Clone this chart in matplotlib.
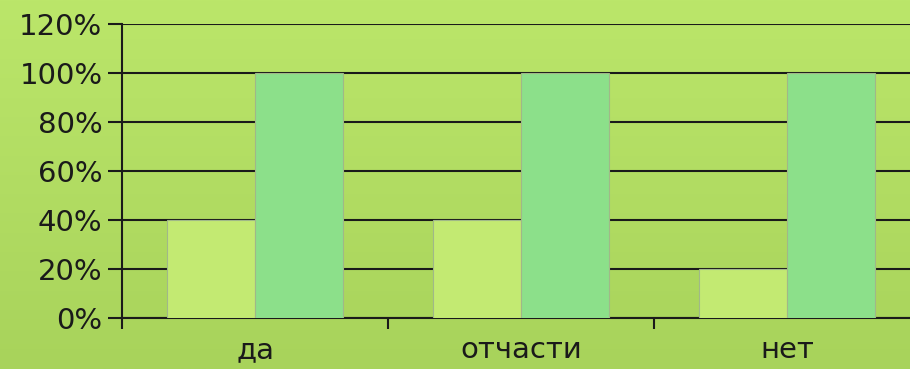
import numpy as np
import matplotlib.pyplot as plt

# --- Data ---
categories = ['да', 'отчасти', 'нет']
series_a = [40, 40, 20]
series_b = [100, 100, 100]
yticks = [0, 20, 40, 60, 80, 100, 120]

fig = plt.figure(figsize=(9.10, 3.69), dpi=100)

# background gradient
bg = fig.add_axes([0, 0, 1, 1], zorder=-10)
top = np.array([0xbb, 0xe6, 0x6a]) / 255
bot = np.array([0xa8, 0xd3, 0x5b]) / 255
t = np.linspace(0, 1, 256)[:, None]
grad = (top * (1 - t) + bot * t)[:, None, :]
bg.imshow(grad, aspect='auto', extent=[0, 1, 0, 1])
bg.axis('off')

ax = fig.add_axes([122 / 910, 1 - 318 / 369, 798 / 910, 294 / 369])
ax.patch.set_alpha(0)

x = np.arange(len(categories))
w = 0.33
ax.bar(x - w / 2, series_a, w, color='#c3ea72', edgecolor='#a0b888', linewidth=0.8, zorder=3)
ax.bar(x + w / 2, series_b, w, color='#8ce08a', edgecolor='#a0b888', linewidth=0.8, zorder=3)

ax.set_xlim(-0.5, 2.5)
ax.set_ylim(0, 120)
ax.set_yticks(yticks)
ax.set_yticklabels([f'{v}%' for v in yticks], fontsize=21, color='#1a1a1a')
ax.yaxis.grid(True, color='#1a1a1a', linewidth=1.5, zorder=0)
ax.set_axisbelow(True)

ax.set_xticks(x)
ax.set_xticklabels(categories, fontsize=21, color='#1a1a1a')
ax.tick_params(axis='x', length=0, pad=13)
ax.set_xticks(np.arange(-0.5, 3.0, 1.0), minor=True)
ax.tick_params(axis='x', which='minor', length=8, width=1.5, color='#1a1a1a')
ax.tick_params(axis='y', length=10, width=1.5, color='#1a1a1a', pad=4)

for s in ['top', 'right']:
    ax.spines[s].set_visible(False)
ax.spines['left'].set_linewidth(1.5)
ax.spines['left'].set_color('#1a1a1a')
ax.spines['bottom'].set_linewidth(1.5)
ax.spines['bottom'].set_color('#1a1a1a')

fig.savefig('out.png', dpi=100)
